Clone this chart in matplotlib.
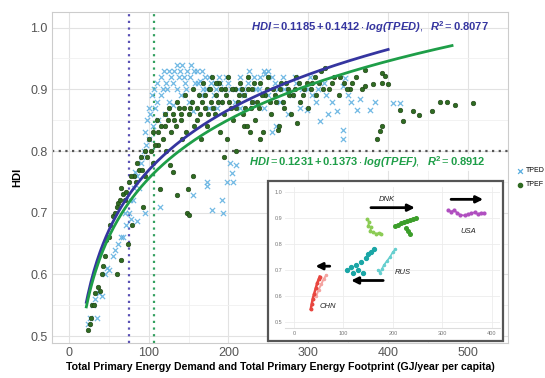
import matplotlib
matplotlib.use("Agg")
import matplotlib.pyplot as plt
import numpy as np
from matplotlib.patches import Rectangle

plt.rcParams['font.family'] = ['Liberation Sans', 'DejaVu Sans']
plt.rcParams['mathtext.fontset'] = 'custom'
plt.rcParams['mathtext.rm'] = 'Liberation Sans'
plt.rcParams['mathtext.it'] = 'Liberation Sans:italic'
plt.rcParams['mathtext.bf'] = 'Liberation Sans:bold'
plt.rcParams['mathtext.bfit'] = 'Liberation Sans:bold:italic'

# TPED (crosses)
tped_x = [24, 27, 30, 33, 35, 38, 42, 45, 48, 51, 55, 58, 62, 66, 68, 72, 75, 78, 80, 83,
          85, 88, 90, 94, 95, 95, 98, 100, 102, 105, 108, 110, 112, 114, 115, 118, 120, 122, 125, 128,
          130, 132, 135, 138, 140, 142, 145, 148, 150, 152, 155, 155, 158, 160, 164, 165, 168, 170, 173, 173,
          175, 178, 180, 182, 185, 188, 190, 192, 193, 195, 198, 200, 202, 204, 206, 208, 210, 212, 215, 220,
          225, 230, 235, 240, 245, 246, 250, 250, 254, 258, 260, 265, 270, 275, 280, 285, 290, 298, 300, 305,
          310, 315, 320, 325, 330, 336, 343, 343, 344, 346, 350, 354, 361, 365, 377, 383, 406, 415,
          100, 104, 107, 111, 116, 119, 123, 126, 131, 136, 139, 144, 147, 153, 157, 162, 167, 172, 176, 183,
          186, 190, 197, 203, 214, 218, 226, 232, 238, 244, 255, 262, 268, 283, 292, 302, 312, 322, 70, 77,
          82, 86, 92, 97]
tped_y = [0.52, 0.53, 0.55, 0.56, 0.53, 0.57, 0.565, 0.60, 0.61, 0.607, 0.63, 0.64, 0.65, 0.66, 0.66, 0.68, 0.70, 0.69, 0.72, 0.766,
          0.687, 0.74, 0.78, 0.80, 0.83, 0.70, 0.85, 0.82, 0.86, 0.84, 0.87, 0.88, 0.85, 0.71, 0.89, 0.90, 0.86, 0.91, 0.88, 0.92,
          0.875, 0.93, 0.90, 0.92, 0.89, 0.94, 0.91, 0.93, 0.88, 0.92, 0.864, 0.728, 0.91, 0.93, 0.913, 0.89, 0.90, 0.92, 0.744, 0.75,
          0.87, 0.91, 0.705, 0.89, 0.90, 0.92, 0.88, 0.72, 0.70, 0.90, 0.75, 0.91, 0.78, 0.765, 0.75, 0.88, 0.777, 0.90, 0.87, 0.89,
          0.91, 0.88, 0.90, 0.92, 0.87, 0.925, 0.89, 0.93, 0.831, 0.91, 0.84, 0.88, 0.90, 0.86, 0.89, 0.91, 0.87, 0.867, 0.90, 0.89,
          0.88, 0.848, 0.91, 0.86, 0.88, 0.864, 0.834, 0.82, 0.905, 0.918, 0.89, 0.88, 0.867, 0.885, 0.867, 0.88, 0.877, 0.877,
          0.87, 0.89, 0.90, 0.91, 0.92, 0.93, 0.90, 0.93, 0.91, 0.94, 0.93, 0.92, 0.90, 0.94, 0.93, 0.91, 0.93, 0.90, 0.92, 0.91,
          0.87, 0.91, 0.92, 0.90, 0.92, 0.90, 0.93, 0.92, 0.90, 0.93, 0.92, 0.90, 0.92, 0.92, 0.90, 0.92, 0.90, 0.89, 0.70, 0.72,
          0.74, 0.76, 0.79, 0.81]

# TPEF (dots)
tpef_x = [24, 26, 28, 29, 31, 33, 36, 39, 41, 43, 45, 47, 50, 52, 55, 58, 61, 62, 64, 66,
          68, 72, 74, 76, 79, 82, 85, 88, 90, 93, 95, 98, 100, 103, 106, 110, 112, 114, 116, 120,
          122, 125, 127, 130, 132, 135, 136, 140, 142, 145, 148, 149, 150, 152, 155, 156, 160, 163, 165, 168,
          170, 173, 175, 178, 180, 183, 185, 188, 190, 192, 195, 196, 198, 200, 203, 206, 208, 210, 212, 215,
          218, 220, 220, 223, 225, 227, 228, 230, 233, 236, 239, 240, 243, 246, 250, 253, 256, 260, 262, 263,
          266, 270, 274, 278, 281, 285, 286, 290, 295, 300, 305, 310, 316, 321, 326, 332, 338, 345, 352, 360,
          367, 371, 371, 381, 386, 390, 392, 392, 392, 396, 400, 415, 419, 431, 439, 455, 465, 474, 484, 506,
          105, 108, 112, 118, 121, 124, 128, 131, 134, 138, 141, 144, 147, 151, 154, 157, 161, 164, 167, 171,
          174, 177, 181, 184, 187, 191, 194, 197, 201, 205, 209, 213, 217, 221, 224, 229, 232, 238, 242, 248,
          252, 258, 264, 268, 272, 276, 283, 288, 293, 298, 303, 308, 313, 318, 330, 340, 348, 355, 60, 65,
          70, 78, 84, 92, 96]
tpef_y = [0.51, 0.52, 0.53, 0.55, 0.55, 0.57, 0.58, 0.574, 0.60, 0.613, 0.63, 0.656, 0.66, 0.68, 0.695, 0.70, 0.60, 0.716, 0.72, 0.623,
          0.73, 0.733, 0.65, 0.75, 0.68, 0.76, 0.78, 0.77, 0.79, 0.71, 0.80, 0.79, 0.82, 0.80, 0.83, 0.85, 0.81, 0.738, 0.84, 0.86,
          0.80, 0.87, 0.777, 0.766, 0.85, 0.728, 0.88, 0.86, 0.82, 0.89, 0.70, 0.738, 0.697, 0.87, 0.76, 0.90, 0.85, 0.89, 0.82, 0.91,
          0.87, 0.84, 0.90, 0.88, 0.92, 0.86, 0.89, 0.91, 0.83, 0.88, 0.79, 0.90, 0.82, 0.92, 0.87, 0.85, 0.90, 0.80, 0.88, 0.91,
          0.86, 0.89, 0.84, 0.84, 0.92, 0.83, 0.87, 0.90, 0.85, 0.88, 0.82, 0.91, 0.83, 0.89, 0.92, 0.86, 0.90, 0.88, 0.834, 0.84,
          0.91, 0.87, 0.90, 0.86, 0.89, 0.92, 0.845, 0.88, 0.90, 0.87, 0.91, 0.89, 0.93, 0.934, 0.90, 0.92, 0.89, 0.91, 0.90, 0.92,
          0.90, 0.905, 0.931, 0.908, 0.82, 0.833, 0.841, 0.91, 0.926, 0.921, 0.908, 0.867, 0.848, 0.864, 0.859, 0.865, 0.88, 0.88, 0.875, 0.877,
          0.78, 0.81, 0.83, 0.82, 0.84, 0.85, 0.83, 0.86, 0.84, 0.87, 0.85, 0.87, 0.83, 0.86, 0.88, 0.84, 0.87, 0.86, 0.88, 0.89,
          0.86, 0.90, 0.87, 0.91, 0.88, 0.90, 0.86, 0.89, 0.88, 0.90, 0.87, 0.89, 0.90, 0.87, 0.90, 0.88, 0.91, 0.87, 0.89, 0.90,
          0.88, 0.89, 0.90, 0.88, 0.91, 0.89, 0.90, 0.91, 0.89, 0.91, 0.90, 0.92, 0.91, 0.90, 0.91, 0.92, 0.90, 0.91, 0.71, 0.74,
          0.72, 0.76, 0.75, 0.77, 0.76]

# fitted models printed on the chart
tped_a, tped_b, tped_r2 = 0.1185, 0.1412, 0.8077
tpef_a, tpef_b, tpef_r2 = 0.1231, 0.1373, 0.8912
tped_range = (22, 400)
tpef_range = (22, 480)
tped_thresh = 75
tpef_thresh = 107
hdi_thresh = 0.8

# inset: country trajectories
chn_tped_x = [34, 36, 38, 41, 44, 47, 50, 52]
chn_tped_y = [0.55, 0.57, 0.59, 0.61, 0.63, 0.65, 0.665, 0.675]
chn_tpef_x = [45, 50, 55, 60, 65]
chn_tpef_y = [0.60, 0.625, 0.645, 0.665, 0.68]
rus_tped_x = [170, 174, 178, 182, 188, 194, 200, 205]
rus_tped_y = [0.70, 0.69, 0.705, 0.72, 0.735, 0.75, 0.77, 0.78]
rus_tpef_x = [108, 115, 120, 125, 130, 135, 140, 145, 150, 155, 162]
rus_tpef_y = [0.70, 0.71, 0.69, 0.72, 0.70, 0.73, 0.69, 0.745, 0.76, 0.77, 0.78]
dnk_tped_x = [148, 152, 150, 156, 154, 160, 166, 172, 176]
dnk_tped_y = [0.895, 0.885, 0.87, 0.865, 0.85, 0.845, 0.84, 0.842, 0.84]
dnk_tpef_x = [204, 210, 216, 222, 228, 234, 240, 246, 226, 230, 234]
dnk_tpef_y = [0.87, 0.875, 0.88, 0.885, 0.89, 0.893, 0.897, 0.90, 0.86, 0.85, 0.84]
usa_x = [312, 318, 324, 330, 336, 345, 352, 358, 365, 372, 378, 385]
usa_y = [0.93, 0.925, 0.93, 0.92, 0.912, 0.91, 0.915, 0.918, 0.922, 0.915, 0.92, 0.918]

blue_pts = "#5aaee0"
green_pts = "#2f6b22"
blue_line = "#3535a0"
green_line = "#1e9e48"

fig = plt.figure(figsize=(5.45, 3.78), dpi=100)
ax = fig.add_axes([0.0954, 0.0926, 0.8366, 0.8754])

ax.scatter(tped_x, tped_y, marker="x", s=14, linewidths=0.9, color=blue_pts, alpha=0.85, zorder=3)
ax.scatter(tpef_x, tpef_y, marker="o", s=11, color=green_pts, edgecolors="#1a3d12", linewidths=0.4, zorder=3)

xa = np.linspace(*tped_range, 200)
xb = np.linspace(*tpef_range, 200)
ax.plot(xa, tped_a + tped_b * np.log(xa), color=blue_line, lw=2, zorder=4)
ax.plot(xb, tpef_a + tpef_b * np.log(xb), color=green_line, lw=2, zorder=4)

ax.axvline(tped_thresh, color="#5b52b5", ls=(0, (1, 2)), lw=1.6, zorder=2)
ax.axvline(tpef_thresh, color="#33a060", ls=(0, (1, 2)), lw=1.6, zorder=2)
ax.axhline(hdi_thresh, color="#555555", ls=(0, (1, 2)), lw=1.6, zorder=2)

ax.text(377, 1.0, r"$\mathbfit{HDI} = \mathbf{%.4f + %.4f} \cdot \mathbfit{log(TPED)},\ \ \mathbfit{R}^\mathbf{2} = \mathbf{%.4f}$"
        % (tped_a, tped_b, tped_r2), color=blue_line, fontsize=8, ha="center", va="center", zorder=6)
ax.text(374, 0.782, r"$\mathbfit{HDI} = \mathbf{%.4f + %.4f} \cdot \mathbfit{log(TPEF)},\ \ \mathbfit{R}^\mathbf{2} = \mathbf{%.4f}$"
        % (tpef_a, tpef_b, tpef_r2), color=green_line, fontsize=8, ha="center", va="center", zorder=6,
        bbox=dict(facecolor="white", edgecolor="none", pad=0.5, alpha=0.8))

ax.set_xlim(-21, 550)
ax.set_ylim(0.489, 1.025)
ax.set_xticks([0, 100, 200, 300, 400, 500])
ax.set_yticks([0.5, 0.6, 0.7, 0.8, 0.9, 1.0])
ax.set_xticks([50, 150, 250, 350, 450], minor=True)
ax.set_yticks([0.55, 0.65, 0.75, 0.85, 0.95], minor=True)
ax.grid(True, which="major", color="#e2e2e2", lw=0.8, zorder=0)
ax.grid(True, which="minor", color="#f0f0f0", lw=0.6, zorder=0)
ax.set_axisbelow(True)
ax.tick_params(which="both", length=0, labelsize=9, labelcolor="#555555", pad=3)
for s in ax.spines.values():
    s.set_color("#cccccc")
    s.set_linewidth(0.8)
ax.set_xlabel("Total Primary Energy Demand and Total Primary Energy Footprint (GJ/year per capita)",
              fontsize=7.6, fontweight="bold", labelpad=2)
ax.set_ylabel("HDI", fontsize=8, fontweight="bold", labelpad=6)

# legend on the right edge (cut by the image border)
leg_handles = [
    ax.scatter([], [], marker="x", s=12, color=blue_pts, linewidths=0.9),
    ax.scatter([], [], marker="o", s=9, color=green_pts),
]
fig.legend(leg_handles, ["TPED", "TPEF"], loc="upper left", bbox_to_anchor=(0.937, 0.57),
           frameon=False, fontsize=5, handletextpad=0.3, labelspacing=1.0, borderpad=0.2, handlelength=1.2)

# inset
fig.patches.append(Rectangle((0.4917, 0.0979), 0.431, 0.423, transform=fig.transFigure,
                             facecolor="white", edgecolor="#555555", lw=1.6, zorder=5))
ins = fig.add_axes([0.523, 0.132, 0.394, 0.373], zorder=6)
ins.plot(chn_tpef_x, chn_tpef_y, color="#f4a3a0", lw=1.4, marker="o", ms=1.5)
ins.plot(chn_tped_x, chn_tped_y, color="#e8463f", lw=1.8, marker="o", ms=1.8)
ins.plot(rus_tped_x, rus_tped_y, color="#66cfcf", lw=1.2, marker="o", ms=1.5)
ins.plot(rus_tpef_x, rus_tpef_y, color="#1aa6a6", lw=0, marker="o", ms=2.8)
ins.plot(dnk_tped_x, dnk_tped_y, color="#8ccc55", lw=1.3, marker="o", ms=1.8)
ins.plot(dnk_tpef_x, dnk_tpef_y, color="#3c9e2a", lw=0, marker="o", ms=2.6)
ins.plot(usa_x, usa_y, color="#b04fc0", lw=1.2, marker="o", ms=2)

arrows = [((150, 0.94), (250, 0.94)), ((312, 0.972), (388, 0.972)),
          ((186, 0.66), (110, 0.66)), ((78, 0.715), (38, 0.715))]
for (x0, y0), (x1, y1) in arrows:
    ins.annotate("", xy=(x1, y1), xytext=(x0, y0),
                 arrowprops=dict(arrowstyle="-|>", color="black", lw=2, mutation_scale=10))
for lab, lx, ly in [("DNK", 187, 0.97), ("USA", 353, 0.85), ("RUS", 221, 0.69), ("CHN", 69, 0.56)]:
    ins.text(lx, ly, lab, fontsize=5.5, style="italic", ha="center", va="center", color="#222222")

ins.set_xlim(-18, 416)
ins.set_ylim(0.477, 1.019)
ins.set_xticks([0, 100, 200, 300, 400])
ins.set_yticks([0.5, 0.6, 0.7, 0.8, 0.9, 1.0])
ins.set_yticklabels(["0.5", "0.6", "0.7", "0.8", "0.9", "1.0"])
ins.grid(True, color="#ececec", lw=0.6)
ins.tick_params(length=0, labelsize=4, labelcolor="#777777", pad=2)
for s in ins.spines.values():
    s.set_visible(False)
ins.spines["bottom"].set_visible(True)
ins.spines["bottom"].set_color("#dddddd")

fig.savefig("out.png", dpi=100)
